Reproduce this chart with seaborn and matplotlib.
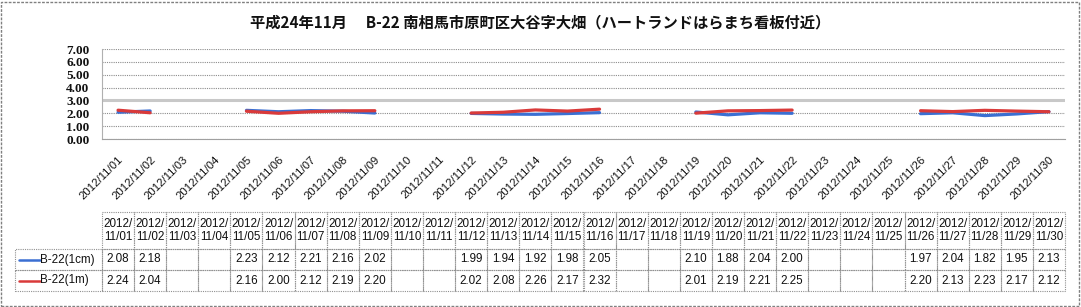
import numpy as np
import pandas as pd
import matplotlib
matplotlib.use("Agg")
import matplotlib.pyplot as plt
from matplotlib.patches import Rectangle
from matplotlib.lines import Line2D
import seaborn as sns

nan = np.nan
dates = [f"2012/11/{d:02d}" for d in range(1, 31)]
series_names = ["B-22(1cm)", "B-22(1m)"]
b22_1cm = [2.08, 2.18, nan, nan, 2.23, 2.12, 2.21, 2.16, 2.02, nan,
           nan, 1.99, 1.94, 1.92, 1.98, 2.05, nan, nan, 2.10, 1.88,
           2.04, 2.00, nan, nan, nan, 1.97, 2.04, 1.82, 1.95, 2.13]
b22_1m = [2.24, 2.04, nan, nan, 2.16, 2.00, 2.12, 2.19, 2.20, nan,
          nan, 2.02, 2.08, 2.26, 2.17, 2.32, nan, nan, 2.01, 2.19,
          2.21, 2.25, nan, nan, nan, 2.20, 2.13, 2.23, 2.17, 2.12]
yticks = [0, 1, 2, 3, 4, 5, 6, 7]
title = "平成24年11月　 B-22 南相馬市原町区大谷字大畑（ハートランドはらまち看板付近）"

colors = {"B-22(1cm)": "#3B6FD2", "B-22(1m)": "#D93A3A"}

sns.set_theme(style="white")
plt.rcParams['font.family'] = ['Noto Sans CJK JP', 'DejaVu Sans']

# long data with segment ids (break at missing days)
rows = []
for name, vals in zip(series_names, [b22_1cm, b22_1m]):
    seg = 0
    prev_nan = True
    for i, v in enumerate(vals):
        if np.isnan(v):
            prev_nan = True
            continue
        if prev_nan:
            seg += 1
        prev_nan = False
        rows.append({"idx": i, "value": v, "series": name, "seg": f"{name}_{seg}"})
df = pd.DataFrame(rows)

W, H = 1081, 307
fig = plt.figure(figsize=(W / 100, H / 100), dpi=100)

ax_l, ax_r, ax_t, ax_b = 102, 1065, 49, 139
ax = fig.add_axes([ax_l / W, 1 - ax_b / H, (ax_r - ax_l) / W, (ax_b - ax_t) / H])

# gridlines
for y in yticks:
    if y == 3:
        ax.axhline(y, color="#C8C8C8", lw=2.2, zorder=1)
    else:
        ax.axhline(y, color="#8C8C8C", lw=0.8, ls=(0, (1, 1)), zorder=1)

sns.lineplot(data=df, x="idx", y="value", hue="series", units="seg",
             estimator=None, palette=colors, legend=False, lw=2.3, ax=ax,
             zorder=3)

ax.set_xlim(-0.5, len(dates) - 0.5)
ax.set_ylim(0, 7)
ax.set_xlabel("")
ax.set_ylabel("")
ax.set_yticks(yticks)
ax.set_yticklabels([f"{v:.2f}" for v in yticks], family="Liberation Serif",
                   fontsize=9.5, fontweight="bold", color="#111111")
ax.tick_params(axis="y", length=0, pad=9)
ax.set_xticks(range(len(dates)))
ax.set_xticklabels(dates, rotation=45, ha="right", va="top",
                   rotation_mode="anchor", fontsize=8.2, color="#111111",
                   family=["Liberation Sans", "DejaVu Sans"])
ax.tick_params(axis="x", which="major", length=0, pad=11)
ax.set_xticks(np.arange(-0.5, len(dates), 1), minor=True)
ax.tick_params(axis="x", which="minor", length=3, color="#AAAAAA", width=0.8,
               direction="out")
for s in ["top", "right"]:
    ax.spines[s].set_visible(False)
ax.spines["left"].set_color("#B0B0B0")
ax.spines["left"].set_linestyle((0, (1, 1)))
ax.spines["left"].set_linewidth(0.8)
ax.spines["bottom"].set_color("#A0A0A0")
ax.spines["bottom"].set_linestyle((0, (1, 1)))
ax.spines["bottom"].set_linewidth(0.8)

# title
fig.text(0.5, 1 - 22 / H, title, ha="center", va="center", fontsize=11,
         fontweight="bold", color="#111111")

# data table
t_l, t_r, t_t, t_b = 15, 1065, 212, 291
tax = fig.add_axes([t_l / W, 1 - t_b / H, (t_r - t_l) / W, (t_b - t_t) / H])
tax.axis("off")
leg_w = ax_l - t_l
col_w = (t_r - ax_l) / len(dates)
header = [""] + [d[:5] + "\n" + d[5:] for d in dates]
def fmt(v):
    return "" if np.isnan(v) else f"{v:.2f}"
body1 = [""] + [fmt(v) for v in b22_1cm]
body2 = [""] + [fmt(v) for v in b22_1m]
tbl = tax.table(cellText=[header, body1, body2],
                colWidths=[leg_w] + [col_w] * len(dates),
                cellLoc="center", bbox=[0, 0, 1, 1])
tbl.auto_set_font_size(False)
hdr_h, row_h = 37, 21
for (r, c), cell in tbl.get_celld().items():
    cell.set_height(hdr_h if r == 0 else row_h)
    cell.set_linestyle((0, (1, 1)))
    cell.set_edgecolor("#909090")
    cell.set_linewidth(0.8)
    cell.set_facecolor("none")
    cell.PAD = 0.02
    txt = cell.get_text()
    txt.set_fontsize(8.4)
    txt.set_color("#111111")
    txt.set_family(["Liberation Sans", "DejaVu Sans"])
    txt.set_linespacing(1.1)
    if r == 0 and c == 0:
        cell.visible_edges = ""

# legend entries in the first column
tot_h = hdr_h + 2 * row_h
tot_w = t_r - t_l
for i, name in enumerate(series_names):
    yc = 1 - (hdr_h + row_h * (i + 0.5)) / tot_h
    tax.add_line(Line2D([4 / tot_w, 25 / tot_w], [yc, yc], color=colors[name],
                        lw=1.8, transform=tax.transAxes))
    tax.text(25 / tot_w, yc, name, ha="left", va="center", fontsize=8.4,
             color="#111111", transform=tax.transAxes,
             family=["Liberation Sans", "DejaVu Sans"])

# dashed outer frame
fig.patches.append(Rectangle((1 / W, 1 / H), 1 - 3 / W, 1 - 3 / H,
                             transform=fig.transFigure, fill=False,
                             edgecolor="#808080", lw=1, ls=(0, (2, 1))))

fig.savefig("out.png", dpi=100)
